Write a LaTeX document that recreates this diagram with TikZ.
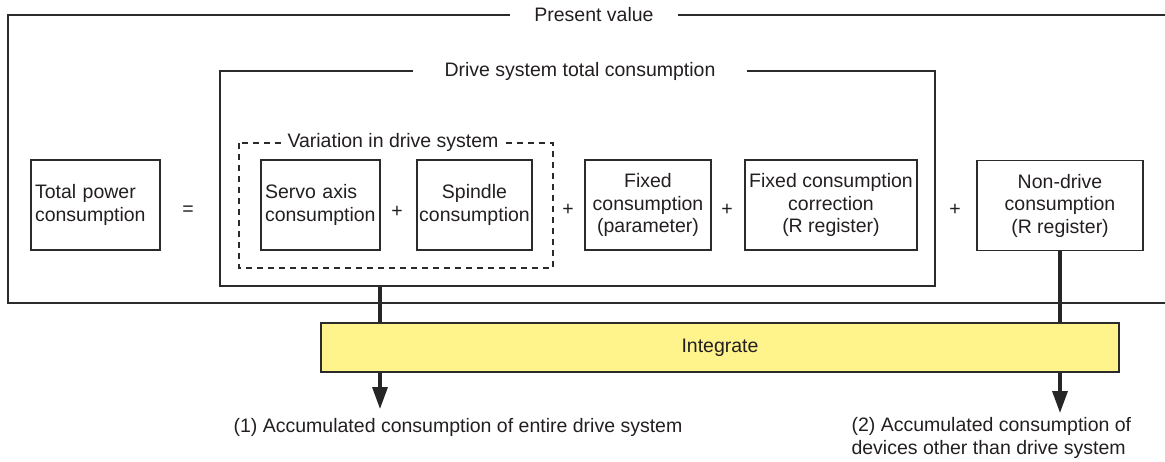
\documentclass[tikz,border=0pt]{standalone}
\usepackage{fontspec}
\setmainfont{Liberation Sans}
\usetikzlibrary{arrows.meta,backgrounds}
\definecolor{linec}{HTML}{2B2B2B}
\definecolor{txtc}{HTML}{231F20}
\definecolor{barfill}{HTML}{FFF38C}
\newcommand{\fs}{\fontsize{19.5}{22.5}\selectfont}
\tikzset{
  box/.style={draw=linec, line width=1.2pt, minimum height=90pt, inner xsep=2pt, inner ysep=2pt, text=txtc, font=\fs, minimum width=#1, align=center},
  lbox/.style={draw=linec, line width=1.2pt, minimum height=90pt, inner xsep=4pt, inner ysep=2pt, text=txtc, font=\fs, text width=#1, align=left},
  frame/.style={draw=linec, line width=1.2pt},
  dframe/.style={draw=linec, line width=1.2pt, dash pattern=on 6pt off 5pt},
  ttl/.style={fill=white, text=txtc, font=\fs, inner ysep=1pt},
  sym/.style={text=txtc, font=\fs},
  arr/.style={draw=black!85, line width=3.4pt, -{Triangle[length=22pt,width=15pt]}},
  lbl/.style={text=txtc, font=\fs, align=left}
}
\begin{document}
\begin{tikzpicture}[x=1pt,y=-1pt]
\useasboundingbox (0,0) rectangle (1165,462);
% outer frame (open to the right)
\draw[frame] (1165,15) -- (8,15) -- (8,303) -- (1165,303);
\node[ttl, inner xsep=24pt] (pv) at (594,15) {Present value};
% drive system frame
\draw[frame] (220,71) rectangle (935,286);
\node[ttl, inner xsep=32pt] (dst) at (580,71) {Drive system total consumption};
% dashed frame
\draw[dframe] (239,143) rectangle (553,268);
\node[ttl, inner xsep=5pt] (vds) at (393,142) {Variation in drive system};
% boxes
\node[lbox=121pt] (total) at (95.5,205) {Total power\\consumption};
\node[lbox=111pt] (servo) at (320.5,205) {Servo axis\\consumption};
\node[box=115pt] (spindle) at (474.5,205) {Spindle\\consumption};
\node[box=126pt] (fixed) at (648,205) {Fixed\\consumption\\(parameter)};
\node[box=172pt] (corr) at (831,205) {Fixed consumption\\correction\\(R register)};
\node[box=166pt] (nondrive) at (1060,205.5) {Non-drive\\consumption\\(R register)};
% operators
\node[sym] (eq) at (188,211) {=};
\node[sym] (p1) at (397,212) {+};
\node[sym] (p2) at (568,210) {+};
\node[sym] (p3) at (727,210) {+};
\node[sym] (p4) at (955,210) {+};
% integrate bar
\node[draw=linec, line width=1.2pt, fill=barfill, minimum width=798pt, minimum height=49pt, text=txtc, font=\fs] (integ) at (720,347.5) {Integrate};
% labels
\node[lbl] (out1) at (458,427) {(1) Accumulated consumption of entire drive system};
\node[lbl, anchor=west] (out2) at (848,438) {(2) Accumulated consumption of\\devices other than drive system};
\coordinate (d1) at (380,286);
\coordinate (e1) at (380,409);
\coordinate (e2) at (1060,413);
\begin{scope}[on background layer]
\draw[arr] (d1) -- (e1);
\draw[arr] (nondrive.south) -- (e2);
\end{scope}
\end{tikzpicture}
\end{document}
